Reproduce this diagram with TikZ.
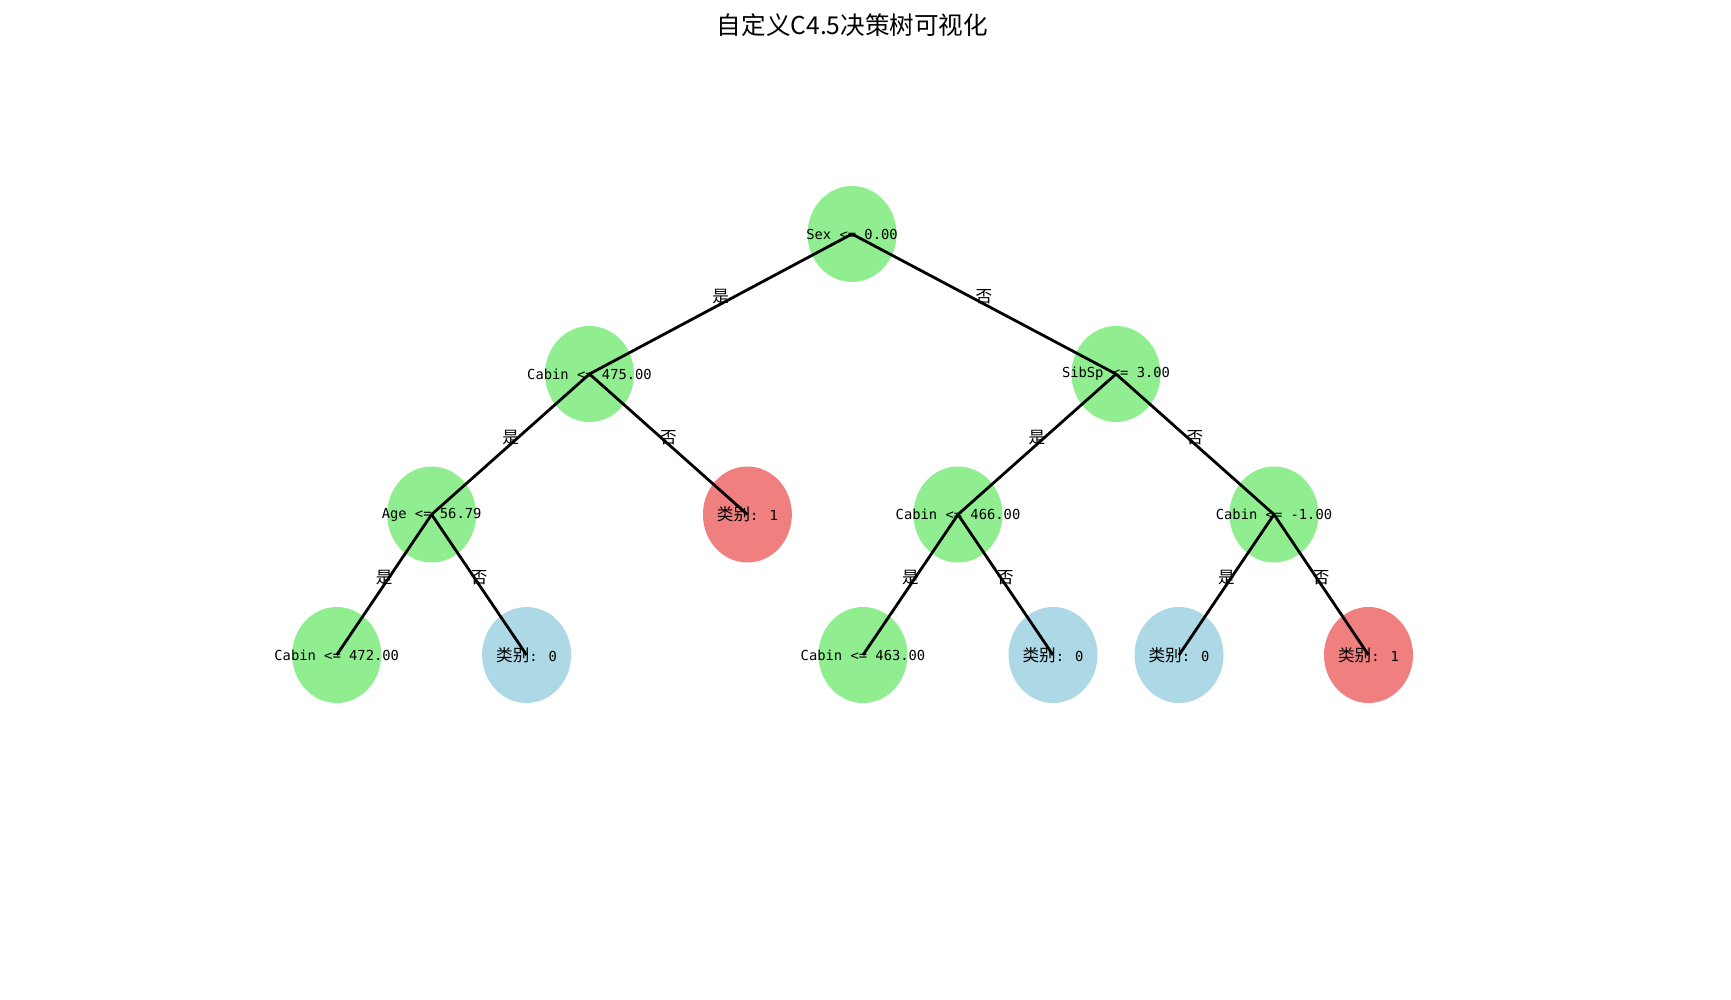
\documentclass[tikz,border=0pt]{standalone}
\usepackage{fontspec}
\setmainfont{DejaVu Sans Mono}
\newfontfamily\cjk{Noto Sans CJK SC}
\definecolor{lgreen}{HTML}{90EE90}
\definecolor{lblue}{HTML}{ADD8E6}
\definecolor{lcoral}{HTML}{F08080}
\newcommand\lb{{\cjk\fontsize{8.3pt}{9pt}\selectfont 类别}}
\tikzset{
  ntext/.style={inner sep=0pt, font=\fontsize{6.9pt}{8pt}\selectfont},
  blob/.style={x radius=22.25pt, y radius=24pt},
  edge/.style={line width=1.4pt, black},
  elab/.style={midway, yshift=3.5pt, inner sep=0pt, font=\cjk\fontsize{8.3pt}{9pt}\selectfont}
}
\newcommand\tn[4]{%
  \fill[#3] (#2) ellipse [blob];
  \node[ntext] (#1) at (#2) {#4};
}
\begin{document}
\begin{tikzpicture}[x=0.5pt,y=-0.5pt]
\useasboundingbox (0,0) rectangle (1731,1000);
\node[font=\cjk\fontsize{12.3pt}{14pt}\selectfont] (title) at (852.5,25) {自定义C4.5决策树可视化};
% level 0
\tn{n0}{852,234}{lgreen}{Sex <= 0.00}
% level 1
\tn{n1}{589.5,374}{lgreen}{Cabin <= 475.00}
\tn{n2}{1116,374}{lgreen}{SibSp <= 3.00}
% level 2
\tn{n3}{431.6,514.5}{lgreen}{Age <= 56.79}
\tn{n4}{747.4,514.5}{lcoral}{\lb: 1}
\tn{n5}{958,514.5}{lgreen}{Cabin <= 466.00}
\tn{n6}{1274,514.5}{lgreen}{Cabin <= -1.00}
% level 3
\tn{n7}{336.7,655}{lgreen}{Cabin <= 472.00}
\tn{n8}{526.6,655}{lblue}{\lb: 0}
\tn{n9}{863,655}{lgreen}{Cabin <= 463.00}
\tn{n10}{1053,655}{lblue}{\lb: 0}
\tn{n11}{1179,655}{lblue}{\lb: 0}
\tn{n12}{1368.5,655}{lcoral}{\lb: 1}
% edges
\draw[edge] (n0.center) -- node[elab] {是} (n1.center);
\draw[edge] (n0.center) -- node[elab] {否} (n2.center);
\draw[edge] (n1.center) -- node[elab] {是} (n3.center);
\draw[edge] (n1.center) -- node[elab] {否} (n4.center);
\draw[edge] (n2.center) -- node[elab] {是} (n5.center);
\draw[edge] (n2.center) -- node[elab] {否} (n6.center);
\draw[edge] (n3.center) -- node[elab] {是} (n7.center);
\draw[edge] (n3.center) -- node[elab] {否} (n8.center);
\draw[edge] (n5.center) -- node[elab] {是} (n9.center);
\draw[edge] (n5.center) -- node[elab] {否} (n10.center);
\draw[edge] (n6.center) -- node[elab] {是} (n11.center);
\draw[edge] (n6.center) -- node[elab] {否} (n12.center);
\end{tikzpicture}
\end{document}
